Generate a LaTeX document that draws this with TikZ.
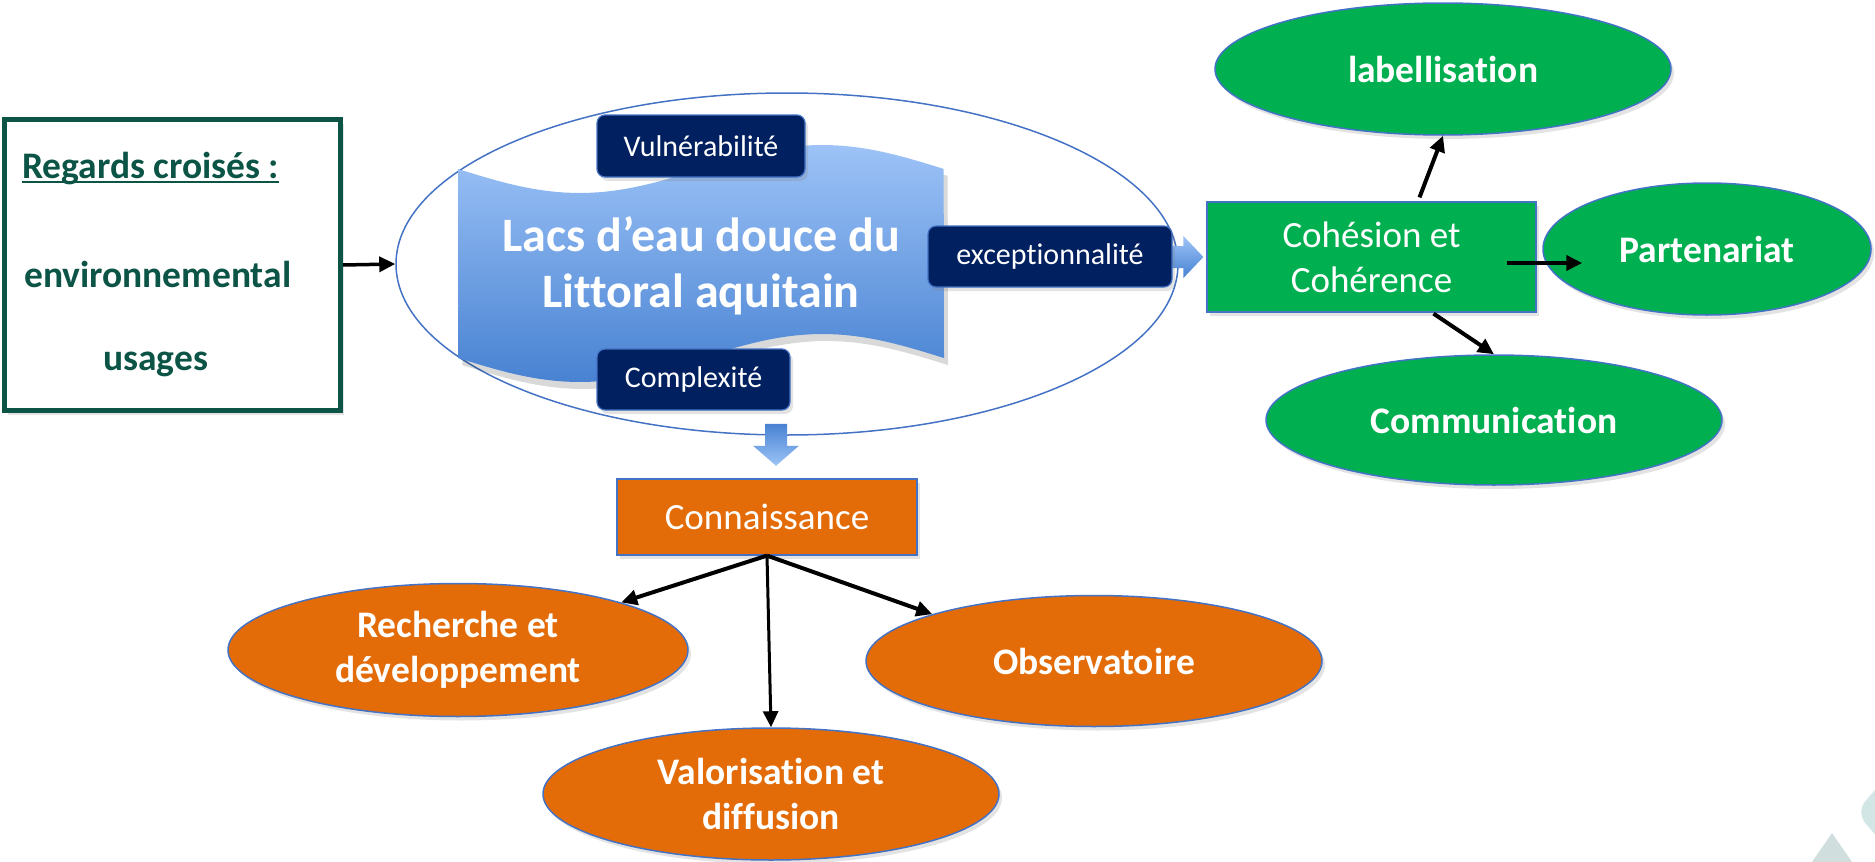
\documentclass[tikz,border=0pt]{standalone}
\usepackage{fontspec}
\setmainfont{Carlito}[Ligatures=NoCommon]
\usetikzlibrary{shapes.geometric,shadows,calc,arrows.meta}

\definecolor{regcol}{RGB}{12,84,70}
\definecolor{navy}{RGB}{0,32,96}
\definecolor{grn}{RGB}{0,176,80}
\definecolor{org}{RGB}{227,108,9}
\definecolor{edge}{RGB}{68,114,196}
\definecolor{lblue}{RGB}{157,195,247}
\definecolor{dblue}{RGB}{72,130,210}
\definecolor{decoA}{RGB}{208,222,222}
\definecolor{decoB}{RGB}{211,230,230}

\newcommand\scrollshape{(458,169) -- plot[domain=0:1,samples=60] ({458+486*\x},{169+24*sin(360*\x)}) -- (944,358) -- plot[domain=1:0,samples=60] ({458+486*\x},{358+24*sin(360*\x)}) -- cycle}

\tikzset{
 shd/.style={drop shadow={opacity=0.22, shadow xshift=3pt, shadow yshift=-4pt}},
 darkbox/.style={rectangle, rounded corners=8pt, fill=navy, draw=edge, line width=1.2pt, text=white, font=\fontsize{30}{36}\selectfont, inner sep=0pt, shd},
 gell/.style={ellipse, fill=grn, draw=edge, line width=1.5pt, text=white, font=\bfseries\fontsize{37.5}{45}\selectfont, align=center, inner sep=0pt, shd},
 oell/.style={gell, fill=org},
 sqbox/.style={rectangle, draw=edge, line width=1.2pt, text=white, font=\fontsize{37}{45}\selectfont, align=center, inner sep=0pt, shd},
 regtxt/.style={text=regcol, font=\bfseries\fontsize{37.5}{43}\selectfont, inner sep=0pt, anchor=base west},
 linkarrow/.style={line width=4pt, -{Triangle[length=16pt,width=15pt]}},
}

\begin{document}
\begin{tikzpicture}[x=1pt,y=-1pt]
\useasboundingbox (0,0) rectangle (1875,862);

% decorations bottom right
\begin{scope}
\clip (0,0) rectangle (1875,862);
\fill[decoA] (1812,862) -- (1832,833) -- (1852,862) -- cycle;
\fill[decoB, rounded corners=14pt] (1905,755) -- (1856,812) -- (1905,870) -- cycle;
\end{scope}

% left box
\node[rectangle, draw=regcol, line width=5pt, minimum width=336pt, minimum height=291pt, inner sep=0pt, fill=white, shd] (reg) at (172.5,265) {};
\node[regtxt] (regt) at (22,178) {Regards croisés :};
\node[regtxt] (envt) at (24,287) {environnemental};
\node[regtxt] (usat) at (103,370) {usages};
\draw[regcol, line width=2.2pt] ($(regt.base west)+(0,4)$) -- ($(regt.base east)+(0,4)$);

% big ellipse
\node[ellipse, draw=edge, line width=1.5pt, minimum width=782pt, minimum height=342pt, inner sep=0pt] (lacs) at (787,264) {};
\draw[linkarrow, line width=3.5pt] (reg.east) -- (lacs.west);

% scroll
\fill[black, opacity=0.15, shift={(4,7)}] \scrollshape;
\path[top color=lblue, bottom color=dblue] \scrollshape;
\node[text=white, font=\bfseries\fontsize{48}{56}\selectfont, align=center, inner sep=0pt] (lacst) at (701,266) {Lacs d’eau douce du\\Littoral aquitain};

% down block arrow
\coordinate (dtop) at ($(lacs.south)+(-11,-12)$);
\path[top color=dblue, bottom color=lblue] ($(dtop)+(-11,0)$) -- ($(dtop)+(11,0)$) -- ($(dtop)+(11,22)$) -- ($(dtop)+(23,22)$) -- ($(dtop)+(0,42)$) -- ($(dtop)+(-23,22)$) -- ($(dtop)+(-11,22)$) -- cycle;

% Cohesion box
\node[sqbox, fill=grn, minimum width=329pt, minimum height=110pt] (coh) at (1371.5,257) {Cohésion et\\Cohérence};

% right block arrow
\coordinate (rtip) at ($(coh.west)+(-3,0)$);
\path[top color=lblue, bottom color=dblue] ($(rtip)+(-36,-11)$) -- ($(rtip)+(-20,-11)$) -- ($(rtip)+(-20,-21)$) -- (rtip) -- ($(rtip)+(-20,21)$) -- ($(rtip)+(-20,11)$) -- ($(rtip)+(-36,11)$) -- cycle;

% dark boxes
\node[darkbox, minimum width=208pt, minimum height=62pt] (vul) at (701,146) {Vulnérabilité};
\node[darkbox, minimum width=193pt, minimum height=61pt] (cpx) at (693.5,379.5) {Complexité};
\node[darkbox, minimum width=244pt, minimum height=61pt] (exc) at (1050,256.5) {exceptionnalité};

% green ellipses
\node[gell, minimum width=456pt, minimum height=132pt] (lab) at (1443,69) {labellisation};
\node[gell, minimum width=328pt, minimum height=132pt] (part) at (1707,249) {Partenariat};
\node[gell, minimum width=456pt, minimum height=130pt] (com) at (1494,420) {Communication};

\draw[linkarrow] ($(coh.north)+(48,-4)$) -- (lab.south);
\draw[linkarrow] ($(coh.east)+(-30,6)$) -- ($(part.west)+(40,14)$);
\draw[linkarrow] ($(coh.south)+(62,1)$) -- (com.north);

% Connaissance
\node[sqbox, fill=org, minimum width=300pt, minimum height=76pt] (conn) at (767,517) {Connaissance};

\node[oell, minimum width=460pt, minimum height=133pt] (rech) at (458,650) {Recherche et\\développement};
\node[oell, minimum width=456pt, minimum height=131pt] (obs) at (1094,661) {Observatoire};
\node[oell, minimum width=456pt, minimum height=132pt] (val) at (771,794) {Valorisation et\\diffusion};

\draw[linkarrow] (conn.south) -- (rech.north east);
\draw[linkarrow] (conn.south) -- (obs.north west);
\draw[linkarrow, line width=3pt] (conn.south) -- (val.north);
\end{tikzpicture}
\end{document}
